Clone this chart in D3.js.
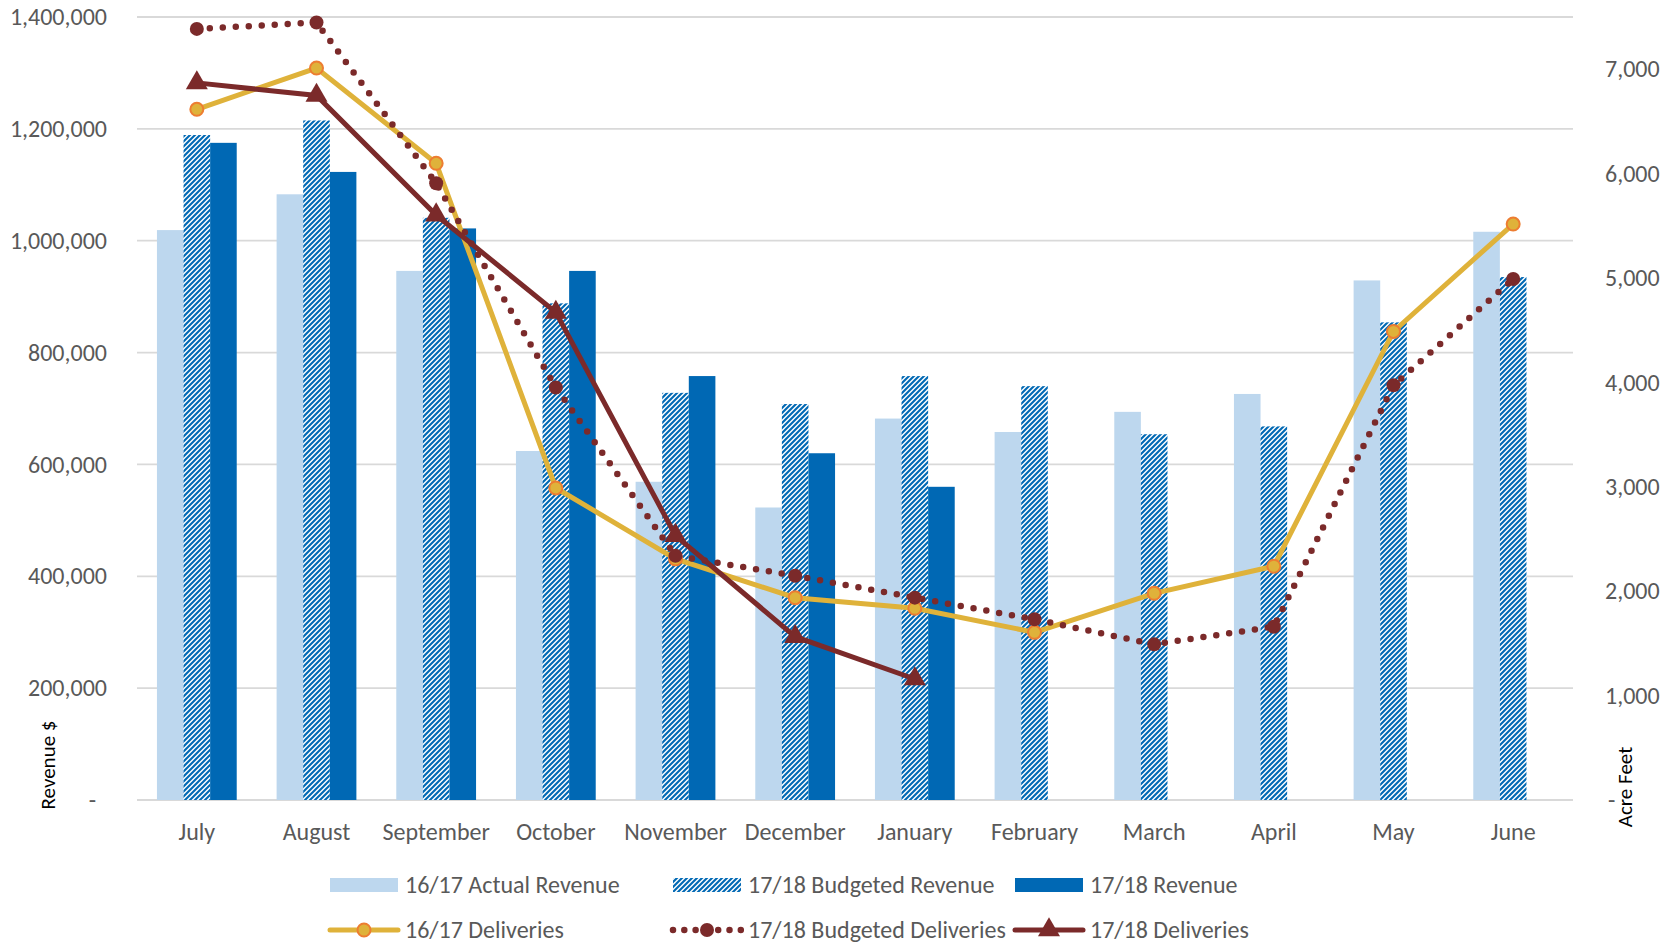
<!DOCTYPE html>
<html>
<head>
<meta charset="utf-8">
<script src="https://cdn.jsdelivr.net/npm/d3@7"></script>
<style>
  body { margin: 0; background: #fff; }
  text { font-family: Carlito, Calibri, Lato, sans-serif; }
</style>
</head>
<body>
<div class="chart"></div>
<script>
var width = 1662
var height = 945

// data
var months = ['July', 'August', 'September', 'October', 'November', 'December',
    'January', 'February', 'March', 'April', 'May', 'June']
var actualRev1617 = [1019000, 1083000, 946000, 624000, 569000, 523000, 682000, 658000, 694000, 726000, 929000, 1016000]
var budgetRev1718 = [1189000, 1215000, 1041000, 888000, 728000, 708000, 758000, 740000, 654000, 668000, 854000, 935000]
var rev1718 = [1175000, 1123000, 1022000, 946000, 758000, 620000, 560000, null, null, null, null, null]
var deliv1617 = [6616, 7011, 6099, 2989, 2310, 1938, 1836, 1606, 1980, 2239, 4488, 5517]
var budgetDeliv1718 = [7386, 7447, 5907, 3951, 2340, 2148, 1938, 1731, 1491, 1660, 3972, 4990]
var deliv1718 = [6869, 6748, 5603, 4671, 2533, 1564, 1159, null, null, null, null, null]
var revTicks = [0, 200000, 400000, 600000, 800000, 1000000, 1200000, 1400000]
var acreTicks = [0, 1000, 2000, 3000, 4000, 5000, 6000, 7000]

var barSeries = ['16/17 Actual Revenue', '17/18 Budgeted Revenue', '17/18 Revenue']
var lineSeries = ['16/17 Deliveries', '17/18 Budgeted Deliveries', '17/18 Deliveries']

var lightBlue = '#bdd7ee'
var darkBlue = '#0068b4'
var gold = '#dfb23a'
var orange = '#ed7d31'
var maroon = '#7b2a2a'
var grey = '#595959'
var fontSize = '24px'

// plot edges (window.top is reserved, so prefix these)
var pLeft = 137, pRight = 1573, pTop = 17, pBottom = 800

var svg = d3.select('.chart').append('svg')
    .attr('width', width)
    .attr('height', height)

var defs = svg.append('defs')
var pat = defs.append('pattern')
    .attr('id', 'hatch')
    .attr('patternUnits', 'userSpaceOnUse')
    .attr('width', 5)
    .attr('height', 5)
pat.append('rect').attr('width', 5).attr('height', 5).attr('fill', '#fff')
pat.append('path')
    .attr('d', 'M-1,1 l2,-2 M0,5 l5,-5 M4,6 l2,-2')
    .attr('stroke', darkBlue)
    .attr('stroke-width', 2.1)

var x0 = d3.scaleBand().domain(months).range([pLeft, pRight]).paddingInner(1 / 3).paddingOuter(1 / 6)
var x1 = d3.scaleBand().domain([0, 1, 2]).range([0, x0.bandwidth()])
var yRev = d3.scaleLinear().domain([0, 1400000]).range([pBottom, pTop])
var yAcre = d3.scaleLinear().domain([0, 7500]).range([pBottom, pTop])

function cx(m) { return x0(m) + x0.bandwidth() / 2 }

// gridlines
svg.append('g').selectAll('line')
    .data(revTicks)
    .enter().append('line')
    .attr('x1', pLeft).attr('x2', pRight)
    .attr('y1', function (d) { return yRev(d) })
    .attr('y2', function (d) { return yRev(d) })
    .attr('stroke', '#d9d9d9')
    .attr('stroke-width', 1.8)

// left axis
var leftAxis = svg.append('g')
    .attr('transform', 'translate(' + (pLeft - 27) + ',0)')
    .call(d3.axisLeft(yRev).tickValues(revTicks).tickSize(0)
        .tickFormat(function (d) { return d === 0 ? '-' : d3.format(',')(d) }))
leftAxis.select('.domain').remove()
leftAxis.selectAll('text')
    .attr('fill', grey).style('font-size', fontSize)
    .attr('dx', function (d) { return d === 0 ? -11 : 0 })

// right axis
var rightAxis = svg.append('g')
    .attr('transform', 'translate(' + (pRight + 29) + ',0)')
    .call(d3.axisRight(yAcre).tickValues(acreTicks).tickSize(0)
        .tickFormat(function (d) { return d === 0 ? '-' : d3.format(',')(d) }))
rightAxis.select('.domain').remove()
rightAxis.selectAll('text')
    .attr('fill', grey).style('font-size', fontSize)
    .attr('dx', function (d) { return d === 0 ? 3 : 0 })

// month labels
var bottomAxis = svg.append('g')
    .attr('transform', 'translate(0,' + (pBottom + 20) + ')')
    .call(d3.axisBottom(x0).tickSize(0))
bottomAxis.select('.domain').remove()
bottomAxis.selectAll('text').attr('fill', grey).style('font-size', fontSize)

// axis titles
svg.append('text')
    .attr('transform', 'translate(55,765) rotate(-90)')
    .attr('text-anchor', 'middle')
    .style('font-size', '21px')
    .attr('fill', '#000')
    .text('Revenue $')
svg.append('text')
    .attr('transform', 'translate(1632,787) rotate(-90)')
    .attr('text-anchor', 'middle')
    .style('font-size', '21px')
    .attr('fill', '#000')
    .text('Acre Feet')

// bars
var barData = [actualRev1617, budgetRev1718, rev1718]
var barFill = [lightBlue, 'url(#hatch)', darkBlue]
barData.forEach(function (series, i) {
    svg.append('g').selectAll('rect')
        .data(months.map(function (m, j) { return { m: m, v: series[j] } }).filter(function (d) { return d.v != null }))
        .enter().append('rect')
        .attr('x', function (d) { return x0(d.m) + x1(i) })
        .attr('width', x1.bandwidth())
        .attr('y', function (d) { return yRev(d.v) })
        .attr('height', function (d) { return yRev(0) - yRev(d.v) })
        .attr('fill', barFill[i])
})

// lines
function pts(series) {
    return months.map(function (m, j) { return { m: m, v: series[j] } }).filter(function (d) { return d.v != null })
}
var line = d3.line()
    .x(function (d) { return cx(d.m) })
    .y(function (d) { return yAcre(d.v) })

// 16/17 deliveries
svg.append('path')
    .datum(pts(deliv1617))
    .attr('d', line)
    .attr('fill', 'none')
    .attr('stroke', gold)
    .attr('stroke-width', 5)
svg.append('g').selectAll('circle')
    .data(pts(deliv1617))
    .enter().append('circle')
    .attr('cx', function (d) { return cx(d.m) })
    .attr('cy', function (d) { return yAcre(d.v) })
    .attr('r', 6.5)
    .attr('fill', gold)
    .attr('stroke', orange)
    .attr('stroke-width', 2)

// 17/18 budgeted deliveries
svg.append('path')
    .datum(pts(budgetDeliv1718))
    .attr('d', line)
    .attr('fill', 'none')
    .attr('stroke', maroon)
    .attr('stroke-width', 6.5)
    .attr('stroke-linecap', 'round')
    .attr('stroke-dasharray', '0 13')
svg.append('g').selectAll('circle')
    .data(pts(budgetDeliv1718))
    .enter().append('circle')
    .attr('cx', function (d) { return cx(d.m) })
    .attr('cy', function (d) { return yAcre(d.v) })
    .attr('r', 7)
    .attr('fill', maroon)

// 17/18 deliveries
var tri = d3.symbol().type(d3.symbolTriangle).size(210)
svg.append('path')
    .datum(pts(deliv1718))
    .attr('d', line)
    .attr('fill', 'none')
    .attr('stroke', maroon)
    .attr('stroke-width', 5)
svg.append('g').selectAll('path')
    .data(pts(deliv1718))
    .enter().append('path')
    .attr('d', tri)
    .attr('transform', function (d) { return 'translate(' + cx(d.m) + ',' + yAcre(d.v) + ')' })
    .attr('fill', maroon)

// legend
var legX = [330, 673, 1015]
var row1 = 885, row2 = 930
var leg = svg.append('g')
barSeries.forEach(function (name, i) {
    leg.append('rect')
        .attr('x', legX[i]).attr('y', row1 - 7)
        .attr('width', 68).attr('height', 14)
        .attr('fill', barFill[i])
    leg.append('text')
        .attr('x', legX[i] + 75).attr('y', row1)
        .attr('dy', '0.35em')
        .attr('fill', grey).style('font-size', fontSize)
        .text(name)
})
lineSeries.forEach(function (name, i) {
    var x = legX[i], mid = x + 34
    var l = leg.append('line')
        .attr('x1', x).attr('x2', x + 68)
        .attr('y1', row2).attr('y2', row2)
        .attr('stroke', i === 0 ? gold : maroon)
    if (i === 1) {
        l.attr('stroke-width', 6.5).attr('stroke-linecap', 'round').attr('stroke-dasharray', '0 11.3')
        leg.append('circle').attr('cx', mid).attr('cy', row2).attr('r', 7).attr('fill', maroon)
    } else if (i === 0) {
        l.attr('stroke-width', 5).attr('stroke-linecap', 'round')
        leg.append('circle').attr('cx', mid).attr('cy', row2).attr('r', 6.5)
            .attr('fill', gold).attr('stroke', orange).attr('stroke-width', 2)
    } else {
        l.attr('stroke-width', 5).attr('stroke-linecap', 'round')
        leg.append('path').attr('d', tri).attr('transform', 'translate(' + mid + ',' + row2 + ')').attr('fill', maroon)
    }
    leg.append('text')
        .attr('x', x + 75).attr('y', row2)
        .attr('dy', '0.35em')
        .attr('fill', grey).style('font-size', fontSize)
        .text(name)
})
</script>
</body>
</html>
